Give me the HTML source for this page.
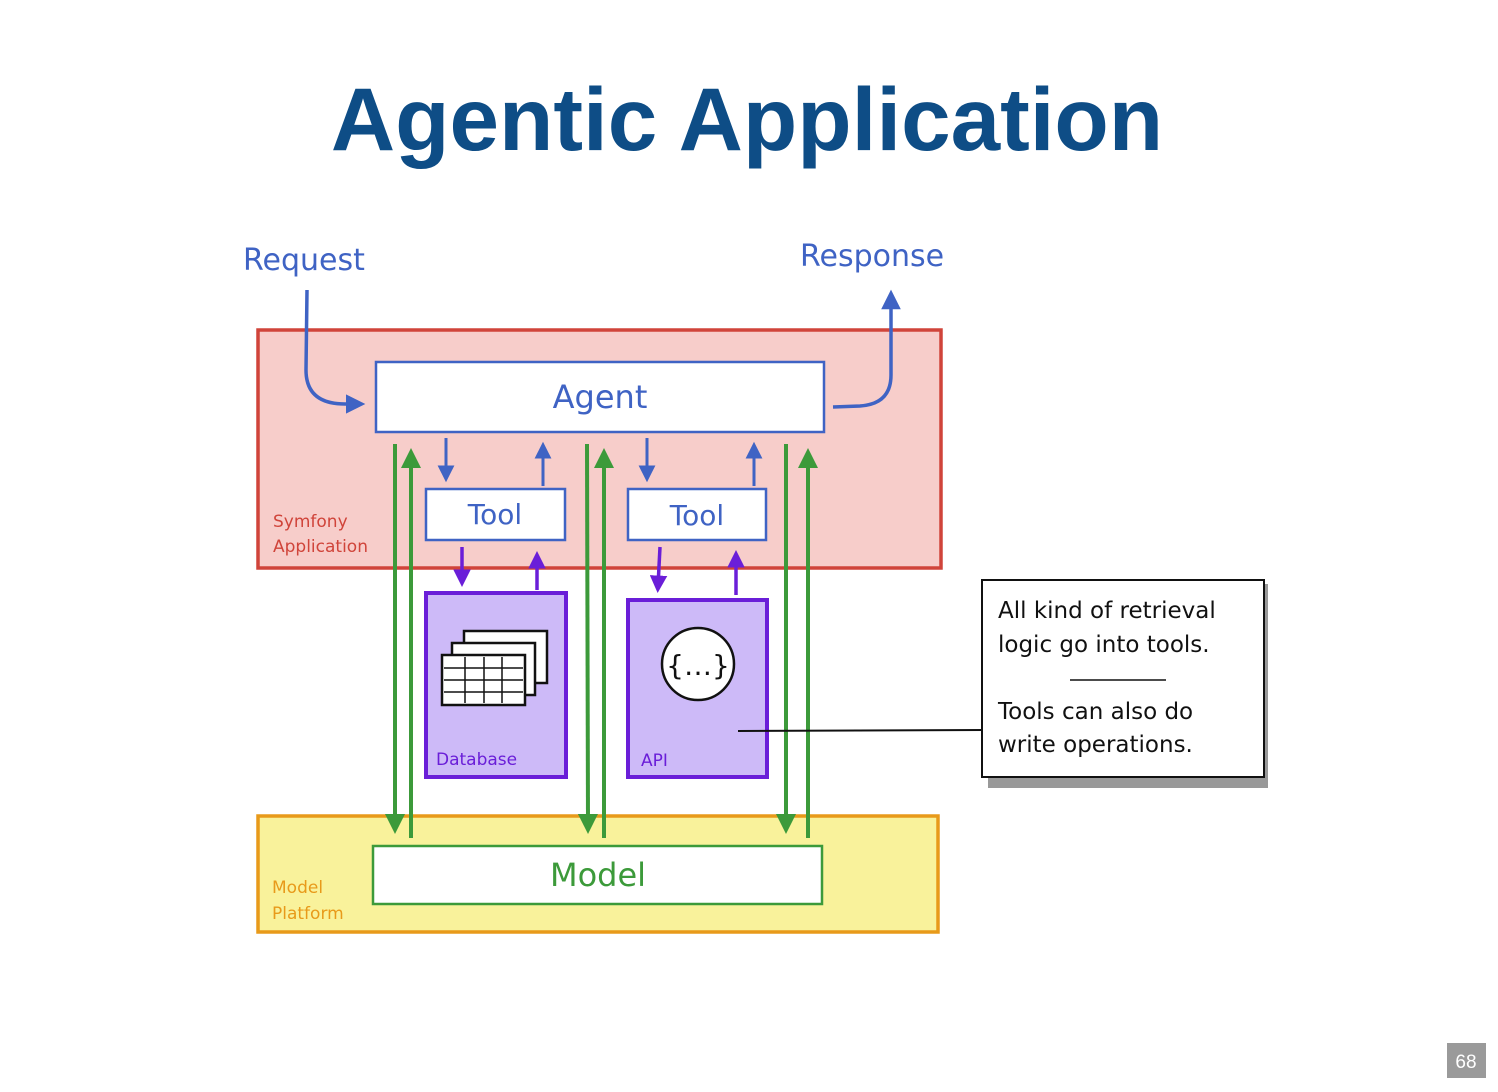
<!DOCTYPE html>
<html><head><meta charset="utf-8"><style>
html,body{margin:0;padding:0;background:#fff;}
svg{display:block;}
.h{font-family:"DejaVu Sans","Liberation Sans",sans-serif;}
</style></head><body>
<svg width="1498" height="1092" viewBox="0 0 1498 1092" xmlns="http://www.w3.org/2000/svg">
<defs>
<marker id="ab" markerWidth="5.6" markerHeight="5.6" refX="3.5" refY="2.8" orient="auto" markerUnits="strokeWidth"><path d="M0,0 L5.6,2.8 L0,5.6 z" fill="#3f63c4"/></marker>
<marker id="ag" markerWidth="5" markerHeight="5" refX="3" refY="2.5" orient="auto" markerUnits="strokeWidth"><path d="M0,0 L5,2.5 L0,5 z" fill="#3c9a3a"/></marker>
<marker id="ap" markerWidth="5" markerHeight="5" refX="3" refY="2.5" orient="auto" markerUnits="strokeWidth"><path d="M0,0 L5,2.5 L0,5 z" fill="#6a1ed8"/></marker>
</defs>
<text x="747" y="150" text-anchor="middle" font-family="Liberation Sans,sans-serif" font-weight="bold" font-size="89" fill="#0e4d86">Agentic Application</text>

<text x="243" y="270" class="h" font-size="30" fill="#3f63c4">Request</text>
<text x="800" y="266" class="h" font-size="30" fill="#3f63c4">Response</text>

<rect x="258" y="330" width="683" height="238" fill="#f7cdca" stroke="#d0443a" stroke-width="3.5"/>
<text x="273" y="527" class="h" font-size="17" fill="#d0443a">Symfony</text>
<text x="273" y="552" class="h" font-size="17" fill="#d0443a">Application</text>

<rect x="258" y="816" width="680" height="116" fill="#f9f29b" stroke="#e89a1a" stroke-width="3.5"/>
<text x="272" y="893" class="h" font-size="17" fill="#e89a1a">Model</text>
<text x="272" y="919" class="h" font-size="17" fill="#e89a1a">Platform</text>

<path d="M307,290 L306,370 Q306,404 345,404 L358,404" fill="none" stroke="#3f63c4" stroke-width="3.5" marker-end="url(#ab)"/>
<path d="M833,407 L860,406 Q891,404 891,375 L891,297" fill="none" stroke="#3f63c4" stroke-width="3.5" marker-end="url(#ab)"/>

<rect x="376" y="362" width="448" height="70" fill="#fff" stroke="#3f63c4" stroke-width="2.5"/>
<text x="600" y="408" text-anchor="middle" class="h" font-size="32" fill="#3f63c4">Agent</text>

<rect x="426" y="489" width="139" height="51" fill="#fff" stroke="#3f63c4" stroke-width="2.5"/>
<text x="495" y="524" text-anchor="middle" class="h" font-size="28" fill="#3f63c4">Tool</text>
<rect x="628" y="489" width="138" height="51" fill="#fff" stroke="#3f63c4" stroke-width="2.5"/>
<text x="697" y="525" text-anchor="middle" class="h" font-size="28" fill="#3f63c4">Tool</text>

<g stroke="#3f63c4" stroke-width="3" fill="none">
<line x1="446" y1="438" x2="446" y2="476" marker-end="url(#ab)"/>
<line x1="543" y1="486" x2="543" y2="448" marker-end="url(#ab)"/>
<line x1="647" y1="438" x2="647" y2="476" marker-end="url(#ab)"/>
<line x1="754" y1="486" x2="754" y2="448" marker-end="url(#ab)"/>
</g>

<rect x="426" y="593" width="140" height="184" fill="#cdbaf8" stroke="#6a1ed8" stroke-width="4"/>
<rect x="628" y="600" width="139" height="177" fill="#cdbaf8" stroke="#6a1ed8" stroke-width="4"/>
<text x="436" y="765" class="h" font-size="17" fill="#6a1ed8">Database</text>
<text x="641" y="766" class="h" font-size="17" fill="#6a1ed8">API</text>

<g stroke="#111" stroke-width="2.5" fill="#fff">
<rect x="464" y="631" width="83" height="52"/>
<rect x="452" y="643" width="83" height="52"/>
<rect x="442" y="655" width="83" height="50"/>
</g>
<g stroke="#111" stroke-width="1.5">
<line x1="444" y1="668" x2="523" y2="668"/><line x1="444" y1="680" x2="523" y2="680"/><line x1="444" y1="692" x2="523" y2="692"/>
<line x1="465" y1="657" x2="465" y2="703"/><line x1="484" y1="657" x2="484" y2="703"/><line x1="502" y1="657" x2="502" y2="703"/>
</g>
<circle cx="698" cy="664" r="36" fill="#fff" stroke="#111" stroke-width="2.5"/>
<text x="698" y="675" text-anchor="middle" font-family="DejaVu Sans,sans-serif" font-size="28" fill="#111">{…}</text>

<g stroke="#6a1ed8" stroke-width="3.5" fill="none">
<line x1="462" y1="547" x2="462" y2="580" marker-end="url(#ap)"/>
<line x1="537" y1="590" x2="537" y2="558" marker-end="url(#ap)"/>
<line x1="660" y1="547" x2="658" y2="586" marker-end="url(#ap)"/>
<line x1="736" y1="595" x2="736" y2="557" marker-end="url(#ap)"/>
</g>

<rect x="373" y="846" width="449" height="58" fill="#fff" stroke="#3c9a3a" stroke-width="2.5"/>
<text x="598" y="886" text-anchor="middle" class="h" font-size="32" fill="#3c9a3a">Model</text>

<g stroke="#3c9a3a" stroke-width="4" fill="none">
<line x1="395" y1="444" x2="395" y2="826" marker-end="url(#ag)"/>
<line x1="411" y1="838" x2="411" y2="456" marker-end="url(#ag)"/>
<line x1="587" y1="444" x2="588" y2="826" marker-end="url(#ag)"/>
<line x1="604" y1="838" x2="604" y2="456" marker-end="url(#ag)"/>
<line x1="786" y1="444" x2="786" y2="826" marker-end="url(#ag)"/>
<line x1="808" y1="838" x2="808" y2="456" marker-end="url(#ag)"/>
</g>

<line x1="738" y1="731" x2="984" y2="730" stroke="#111" stroke-width="2"/>
<rect x="988" y="584" width="280" height="204" fill="#999"/>
<rect x="982" y="580" width="282" height="197" fill="#fff" stroke="#111" stroke-width="2"/>
<text x="998" y="618" class="h" font-size="23" fill="#111">All kind of retrieval</text>
<text x="998" y="652" class="h" font-size="23" fill="#111">logic go into tools.</text>
<line x1="1070" y1="680" x2="1166" y2="680" stroke="#111" stroke-width="1.5"/>
<text x="998" y="719" class="h" font-size="23" fill="#111">Tools can also do</text>
<text x="998" y="752" class="h" font-size="23" fill="#111">write operations.</text>

<rect x="1447" y="1043" width="39" height="35" fill="#9a9a9a"/>
<text x="1466" y="1068" text-anchor="middle" font-family="Liberation Sans,sans-serif" font-size="19" fill="#fff">68</text>
</svg>
</body></html>
